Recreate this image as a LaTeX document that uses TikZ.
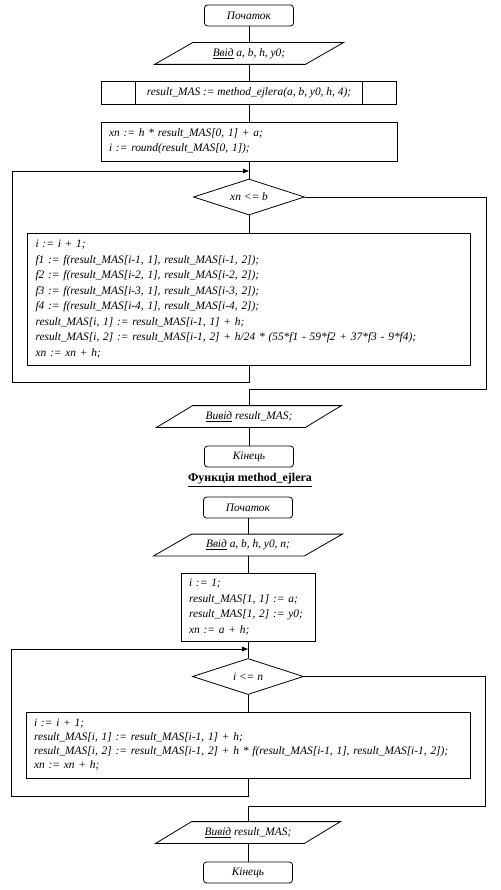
\documentclass[tikz,border=0pt]{standalone}
\usepackage{fontspec}
\setmainfont{Liberation Serif}
\usetikzlibrary{arrows.meta,shapes.geometric}
\begin{document}
\begin{tikzpicture}[x=1pt,y=-1pt,line width=0.8pt,
  every node/.style={font=\fontsize{11.4}{15.5}\selectfont\itshape, inner sep=0pt},
  term/.style={draw, rounded corners=3pt, minimum width=89pt, minimum height=21pt},
  proc/.style={draw, inner xsep=8pt, align=left},
  iobox/.style={minimum width=112pt, minimum height=21pt},
  decbox/.style={draw, diamond, aspect=3, minimum width=111pt, minimum height=36pt},
  arr/.style={-{Triangle[length=6pt,width=4.5pt]}}]
\useasboundingbox (0,0) rectangle (500,890);

% ---------- main program ----------
\node[term] (start1) at (249,15.5) {Початок};
\node[iobox] (in1) at (249,53.5) {\underline{Ввід} a, b, h, y0;};
\draw (in1.north west) -- ([xshift=38pt]in1.north east) -- (in1.south east) -- ([xshift=-38pt]in1.south west) -- cycle;
\node[draw, minimum width=295pt, minimum height=23pt] (call1) at (249,92.5) {result\_MAS := method\_ejlera(a, b, y0, h, 4);};
\draw ([xshift=34pt]call1.north west) -- ([xshift=34pt]call1.south west);
\draw ([xshift=-35pt]call1.north east) -- ([xshift=-35pt]call1.south east);
\node[proc, text width=280pt, minimum height=39pt] (init1) at (249,141.5) {xn := h * result\_MAS[0, 1] + a;\\ i := round(result\_MAS[0, 1]);};
\node[decbox] (dec1) at (249,197) {xn <= b};
\node[proc, text width=427pt, minimum height=132pt] (body1) at (249,299) {i := i + 1;\\
f1 := f(result\_MAS[i-1, 1], result\_MAS[i-1, 2]);\\
f2 := f(result\_MAS[i-2, 1], result\_MAS[i-2, 2]);\\
f3 := f(result\_MAS[i-3, 1], result\_MAS[i-3, 2]);\\
f4 := f(result\_MAS[i-4, 1], result\_MAS[i-4, 2]);\\
result\_MAS[i, 1] := result\_MAS[i-1, 1] + h;\\
result\_MAS[i, 2] := result\_MAS[i-1, 2] + h/24 * (55*f1 - 59*f2 + 37*f3 - 9*f4);\\
xn := xn + h;};
\node[iobox] (out1) at (249,416.5) {\underline{Вивід} result\_MAS;};
\draw (out1.north west) -- ([xshift=36pt]out1.north east) -- (out1.south east) -- ([xshift=-36pt]out1.south west) -- cycle;
\node[term] (end1) at (249,456.5) {Кінець};

\coordinate (j1) at (249,171);
\coordinate (lb1) at (12,382);
\coordinate (rb1) at (486,389);
\draw (start1.south) -- (in1.north);
\draw (in1.south) -- (call1.north);
\draw (call1.south) -- (init1.north);
\draw (init1.south) -- (dec1.north);
\draw (dec1.south) -- (body1.north);
\draw[arr] (body1.south) |- (lb1) |- (j1);
\draw (dec1.east) -| (rb1) -| (out1.north);
\draw (out1.south) -- (end1.north);

% ---------- title ----------
\node[font=\fontsize{12}{14}\selectfont\bfseries] (title) at (250,480) {\underline{Функція method\_ejlera}};

% ---------- function method_ejlera ----------
\node[term] (start2) at (248,507.5) {Початок};
\node[iobox] (in2) at (248,545) {\underline{Ввід} a, b, h, y0, n;};
\draw (in2.north west) -- ([xshift=38pt]in2.north east) -- (in2.south east) -- ([xshift=-38pt]in2.south west) -- cycle;
\node[proc, text width=118pt, minimum height=68pt] (init2) at (248,607) {i := 1;\\ result\_MAS[1, 1] := a;\\ result\_MAS[1, 2] := y0;\\ xn := a + h;};
\node[decbox] (dec2) at (248,676.5) {i <= n};
\node[proc, text width=428pt, minimum height=66pt, font=\fontsize{11.4}{14}\selectfont\itshape] (body2) at (248,745) {i := i + 1;\\
result\_MAS[i, 1] := result\_MAS[i-1, 1] + h;\\
result\_MAS[i, 2] := result\_MAS[i-1, 2] + h * f(result\_MAS[i-1, 1], result\_MAS[i-1, 2]);\\
xn := xn + h;};
\node[iobox] (out2) at (248,832.5) {\underline{Вивід} result\_MAS;};
\draw (out2.north west) -- ([xshift=36pt]out2.north east) -- (out2.south east) -- ([xshift=-36pt]out2.south west) -- cycle;
\node[term] (end2) at (248,872.5) {Кінець};

\coordinate (j2) at (248,649);
\coordinate (lb2) at (11,796);
\coordinate (rb2) at (485,806);
\draw (start2.south) -- (in2.north);
\draw (in2.south) -- (init2.north);
\draw (init2.south) -- (dec2.north);
\draw (dec2.south) -- (body2.north);
\draw[arr] (body2.south) |- (lb2) |- (j2);
\draw (dec2.east) -| (rb2) -| (out2.north);
\draw (out2.south) -- (end2.north);
\end{tikzpicture}
\end{document}
